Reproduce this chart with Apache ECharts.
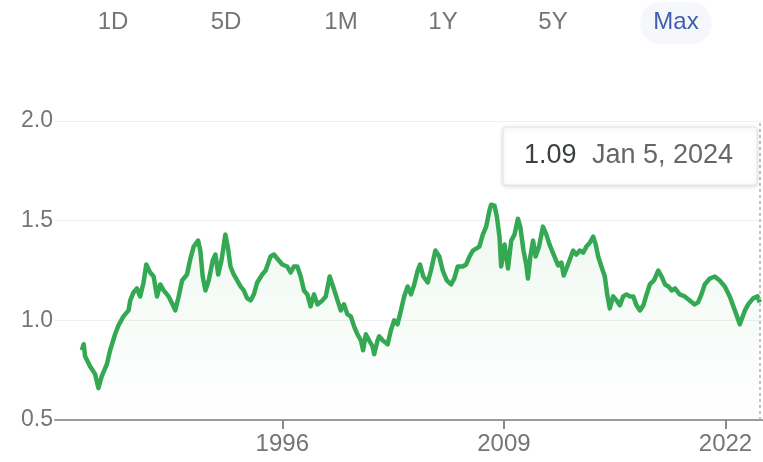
<!DOCTYPE html>
<html>
<head>
<meta charset="utf-8">
<script src="https://cdn.jsdelivr.net/npm/echarts@6/dist/echarts.min.js"></script>
<style>
html,body{margin:0;padding:0;background:#fff;}
#chart{width:763px;height:462px;}
</style>
</head>
<body>
<div id="chart"></div>
<script>
// Time (decimal years) and exchange-rate values
const years = [1984.24,1984.35,1984.43,1984.72,1985.02,1985.21,1985.41,1985.71,1985.90,1986.19,1986.39,1986.68,1986.98,1987.08,1987.27,1987.47,1987.66,1987.86,1988.02,1988.25,1988.45,1988.65,1988.84,1989.04,1989.33,1989.62,1989.72,1989.92,1990.12,1990.41,1990.61,1990.80,1991.06,1991.19,1991.33,1991.49,1991.68,1991.92,1992.08,1992.24,1992.43,1992.66,1992.80,1992.96,1993.15,1993.35,1993.55,1993.74,1993.94,1994.14,1994.33,1994.53,1994.82,1995.02,1995.31,1995.51,1995.80,1996.00,1996.29,1996.49,1996.68,1996.88,1997.08,1997.27,1997.47,1997.66,1997.86,1998.06,1998.35,1998.55,1998.78,1998.98,1999.24,1999.43,1999.62,1999.82,2000.02,2000.21,2000.41,2000.61,2000.74,2000.90,2001.09,2001.29,2001.39,2001.59,2001.68,2001.88,2002.18,2002.37,2002.56,2002.76,2002.96,2003.15,2003.35,2003.55,2003.74,2003.94,2004.08,2004.27,2004.53,2004.72,2004.98,2005.21,2005.41,2005.65,2005.90,2006.09,2006.29,2006.59,2006.78,2006.98,2007.18,2007.37,2007.56,2007.76,2007.96,2008.15,2008.25,2008.45,2008.59,2008.74,2008.84,2009.04,2009.24,2009.43,2009.62,2009.82,2009.96,2010.15,2010.31,2010.41,2010.55,2010.71,2010.86,2011.06,2011.29,2011.49,2011.68,2011.92,2012.18,2012.37,2012.51,2012.76,2013.06,2013.25,2013.45,2013.65,2013.84,2014.04,2014.24,2014.39,2014.53,2014.72,2014.92,2015.06,2015.21,2015.41,2015.61,2015.80,2016.00,2016.19,2016.39,2016.59,2016.78,2016.98,2017.18,2017.37,2017.56,2017.80,2018.06,2018.25,2018.45,2018.65,2018.84,2019.04,2019.31,2019.61,2019.90,2020.19,2020.39,2020.59,2020.78,2021.08,2021.37,2021.66,2021.96,2022.25,2022.55,2022.84,2022.94,2023.14,2023.33,2023.62,2023.88,2024.01];
const rates = [0.85,0.88,0.82,0.77,0.73,0.66,0.72,0.78,0.85,0.93,0.975,1.02,1.05,1.10,1.14,1.16,1.12,1.19,1.28,1.24,1.22,1.12,1.18,1.15,1.12,1.07,1.05,1.12,1.20,1.23,1.31,1.37,1.40,1.35,1.22,1.15,1.20,1.30,1.33,1.23,1.30,1.43,1.37,1.27,1.23,1.20,1.17,1.15,1.11,1.10,1.13,1.19,1.23,1.25,1.32,1.33,1.30,1.28,1.27,1.24,1.27,1.27,1.22,1.15,1.13,1.07,1.13,1.08,1.10,1.12,1.22,1.17,1.10,1.05,1.08,1.03,1.02,0.97,0.93,0.90,0.85,0.93,0.90,0.87,0.83,0.90,0.92,0.90,0.88,0.95,1.00,0.98,1.05,1.12,1.17,1.13,1.18,1.25,1.28,1.22,1.19,1.25,1.35,1.32,1.25,1.20,1.18,1.21,1.27,1.27,1.28,1.32,1.35,1.36,1.37,1.43,1.47,1.55,1.58,1.575,1.52,1.42,1.27,1.38,1.26,1.40,1.43,1.51,1.47,1.35,1.28,1.21,1.32,1.40,1.32,1.37,1.47,1.43,1.38,1.33,1.275,1.29,1.225,1.28,1.35,1.33,1.35,1.34,1.37,1.39,1.42,1.38,1.32,1.27,1.22,1.13,1.06,1.12,1.10,1.075,1.12,1.13,1.12,1.12,1.075,1.05,1.075,1.13,1.18,1.20,1.25,1.22,1.18,1.17,1.15,1.16,1.13,1.12,1.10,1.08,1.09,1.13,1.18,1.21,1.22,1.20,1.17,1.12,1.05,0.98,0.97,1.05,1.08,1.11,1.12,1.09];
const xTickYears = [1996, 2009, 2022];
const yTicks = [0.5, 1.0, 1.5, 2.0];
const rangeButtons = ['1D', '5D', '1M', '1Y', '5Y', 'Max'];
const selectedRange = 'Max';
const hoverDate = 'Jan 5, 2024';

const chart = echarts.init(document.getElementById('chart'), null, {renderer: 'canvas'});
const data = years.map((y, i) => [y, rates[i]]);
const hoverYear = years[years.length - 1];
const hoverValue = rates[rates.length - 1];

const FONT = '"Liberation Sans", Arial, sans-serif';
const btnCenters = [113, 226, 341, 443, 553, 676];
const graphics = [];
rangeButtons.forEach((b, i) => {
  if (b === selectedRange) {
    graphics.push({type: 'rect', shape: {x: btnCenters[i] - 36, y: 2, width: 72, height: 42, r: 21},
      style: {fill: '#f5f7fb'}, z: 1});
  }
  graphics.push({type: 'text', x: btnCenters[i], y: 22, z: 2,
    style: {text: b, fill: b === selectedRange ? '#4060ad' : '#757575', font: '24px ' + FONT,
      align: 'center', verticalAlign: 'middle'}});
});
// hover box
graphics.push({type: 'rect', shape: {x: 503, y: 127, width: 254, height: 58, r: 3},
  style: {fill: '#fff', stroke: '#e6e6e6', lineWidth: 1, shadowBlur: 4, shadowColor: 'rgba(0,0,0,0.15)', shadowOffsetY: 1}, z: 10});
graphics.push({type: 'text', x: 524, y: 156, z: 11,
  style: {text: hoverValue.toFixed(2), fill: '#3c4043', font: '27px ' + FONT, verticalAlign: 'middle'}});
graphics.push({type: 'text', x: 592, y: 156, z: 11,
  style: {text: hoverDate, fill: '#666666', font: '27px ' + FONT, verticalAlign: 'middle'}});

chart.setOption({
  animation: false,
  backgroundColor: '#fff',
  grid: {left: 55, right: 0, top: 121, bottom: 42},
  xAxis: {
    type: 'value', min: 1982.665, max: 2024.2,
    axisLine: {show: true, lineStyle: {color: '#9a9a9a', width: 2}},
    axisTick: {show: true, customValues: xTickYears, length: 9, lineStyle: {color: '#8a8a8a', width: 2}},
    axisLabel: {customValues: xTickYears, formatter: v => String(Math.round(v)), color: '#757575',
      fontSize: 24, fontFamily: FONT, margin: 12},
    splitLine: {show: false}
  },
  yAxis: {
    type: 'value', min: 0.5, max: 2.0, interval: 0.5,
    axisLine: {show: false}, axisTick: {show: false},
    axisLabel: {formatter: v => v.toFixed(1), color: '#757575', fontSize: 23, fontFamily: FONT, margin: 2},
    splitLine: {lineStyle: {color: '#f0f0f0', width: 1}}
  },
  series: [{
    type: 'line', data: data, showSymbol: false, smooth: false,
    lineStyle: {color: '#34a853', width: 4.5, join: 'round'},
    itemStyle: {color: '#34a853'},
    areaStyle: {color: new echarts.graphic.LinearGradient(0, 0, 0, 1, [
      {offset: 0, color: 'rgba(52,168,83,0.12)'},
      {offset: 1, color: 'rgba(52,168,83,0)'}
    ])},
    markLine: {silent: true, symbol: 'none', label: {show: false},
      lineStyle: {color: '#b0b0b0', type: [3, 3], width: 1.5},
      data: [{xAxis: hoverYear}]}
  }],
  graphic: graphics
});
</script>
</body>
</html>
